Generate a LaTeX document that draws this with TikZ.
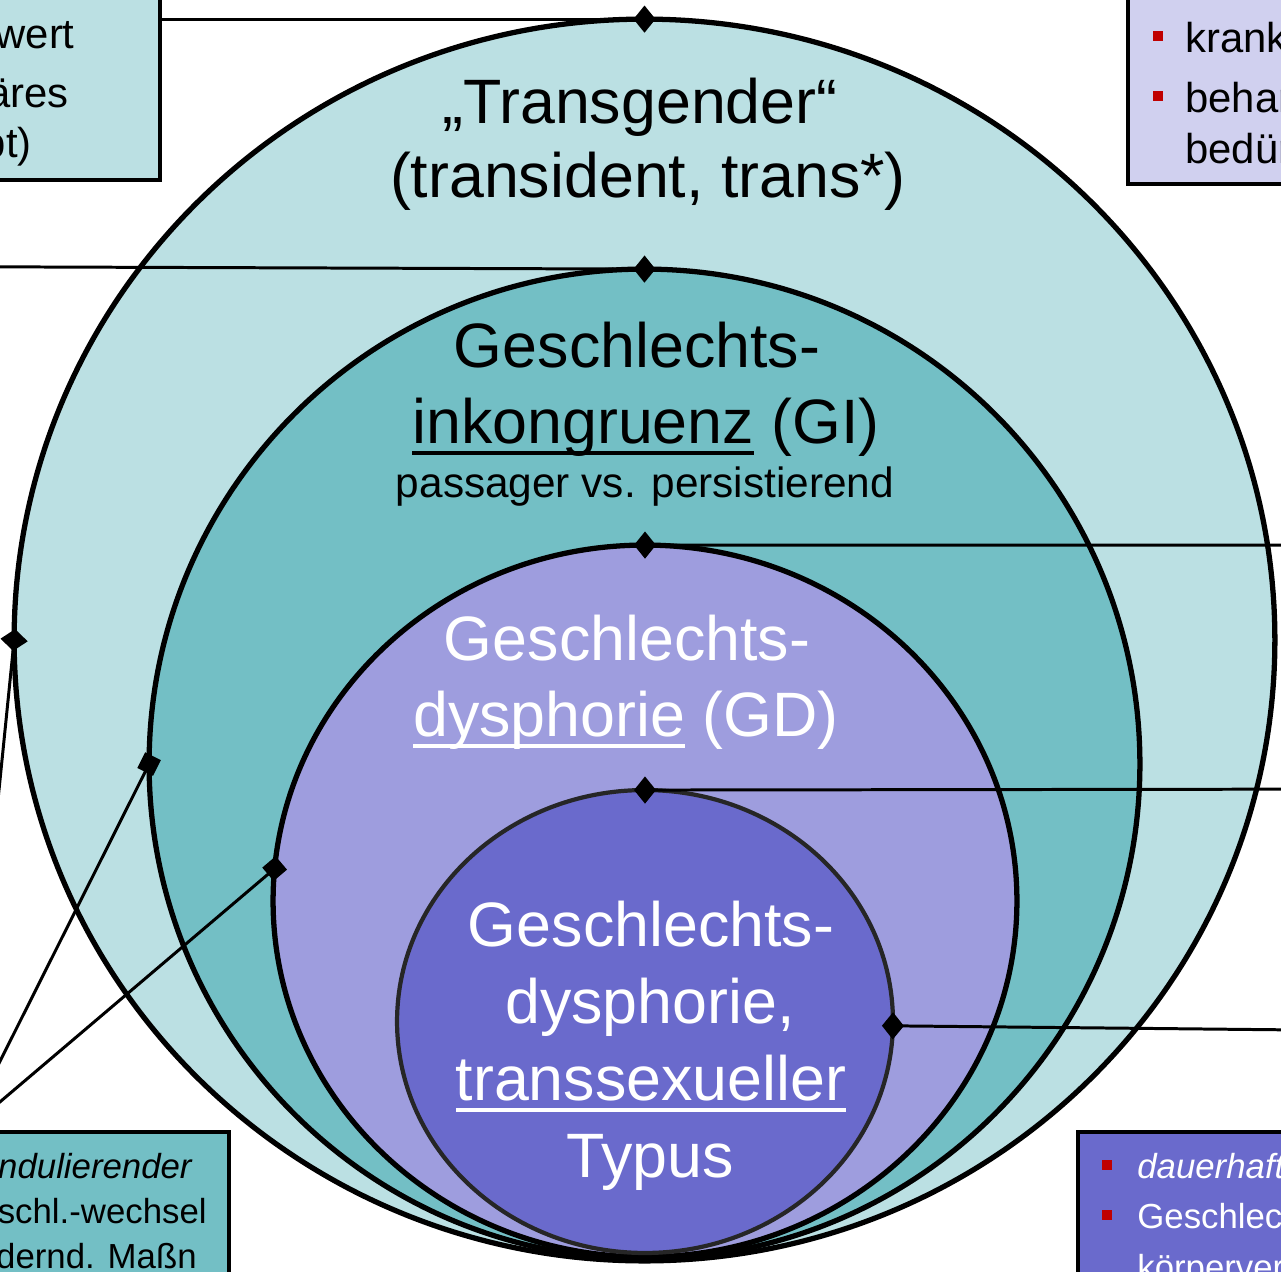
\documentclass[tikz,border=0pt]{standalone}
\usepackage{fontspec}
\setmainfont{Liberation Sans}
\usepackage{xcolor}
\usetikzlibrary{shapes,shapes.geometric}
\usetikzlibrary{arrows.meta}

\definecolor{tgcol}{RGB}{187,224,227}
\definecolor{gicol}{RGB}{115,191,197}
\definecolor{gdcol}{RGB}{158,157,222}
\definecolor{gdtcol}{RGB}{106,106,204}
\definecolor{lavbox}{RGB}{208,208,239}
\definecolor{bulred}{RGB}{192,0,0}
\definecolor{gdtline}{RGB}{38,38,38}

\newcommand{\ulword}[1]{\setbox0\hbox{#1}\rlap{\rule[-0.19em]{\wd0}{0.055em}}\box0\relax}
\newcommand{\redbul}[2]{\llap{\textcolor{bulred}{\rule[#1]{6.2pt}{6.2pt}}\hspace{#2}}}

\begin{document}
\begin{tikzpicture}[x=0.02cm,y=-0.02cm]
\tikzset{ring/.style={ellipse,draw,line width=3pt,inner sep=0pt,outer sep=0pt},
infobox/.style={rectangle,draw,line width=2.3pt,inner sep=0pt,outer sep=0pt},
link/.style={line width=1.7pt},
dlink/.style={link,-{Diamond[length=12.5pt,width=15.5pt]},shorten >=-6.25pt},
slink/.style={link,-{Square[length=10pt,width=10pt]},shorten >=-5pt},
bigtxt/.style={inner sep=0pt,anchor=base,font=\fontsize{35.7}{43}\selectfont},
midtxt/.style={inner sep=0pt,anchor=base,font=\fontsize{24.1}{29}\selectfont},
boxtxt/.style={inner sep=0pt,font=\fontsize{23.8}{29}\selectfont},
boxtxtsm/.style={inner sep=0pt,font=\fontsize{19.8}{24}\selectfont}}
\useasboundingbox (0,0) rectangle (1281,1271);
\clip (0,0) rectangle (1281,1271);

% the four nested sets
\node[ring,fill=tgcol,minimum width=25.22cm,minimum height=24.84cm](tg) at (644.5,640){};
\node[ring,fill=gicol,minimum width=19.82cm,minimum height=19.8cm](gi) at (644.5,764){};
\node[ring,fill=gdcol,minimum width=14.88cm,minimum height=14.24cm](gd) at (645,901){};
\node[ring,fill=gdtcol,draw=gdtline,line width=2.4pt,minimum width=9.92cm,minimum height=9.26cm](gdt) at (645,1021.5){};

% boxes, mostly outside the frame
\node[infobox,fill=tgcol,minimum width=8cm,minimum height=4.4cm](boxTL) at (-40,70){};
\node[infobox,fill=lavbox,minimum width=8cm,minimum height=4.48cm](boxTR) at (1328,72){};
\node[infobox,fill=gicol,minimum width=10.58cm,minimum height=4.4cm](boxBL) at (-35.5,1242){};
\node[infobox,fill=gdtcol,minimum width=8cm,minimum height=4.4cm](boxBR) at (1278,1242){};

\coordinate (offL) at (-100,266.5);
\coordinate (offR1) at (1400,545);
\coordinate (offR2) at (1400,789);
\coordinate (offR3) at (1400,1031);

% connectors
\draw[dlink](boxTL.east |- tg.north) -- (tg.north);
\draw[dlink](offL) -- (gi.north);
\draw[dlink](offR1) -- (gd.north);
\draw[dlink](offR2) -- (gdt.north);
\draw[dlink](offR3) -- (gdt.-1.3);
\draw[dlink](boxBL.north) -- (tg.west);
\draw[slink](boxBL.north) -- (gi.west);
\draw[slink](boxBL.north) -- (gd.175.5);

% labels of the sets
\node[bigtxt](tg1) at (640,123){„Transgender“};
\node[bigtxt](tg2) at (648,197){(transident, trans*)};
\node[bigtxt](gi1) at (637,367){Geschlechts-};
\node[bigtxt](gi2) at (646,443){\ulword{inkongruenz} (GI)};
\node[midtxt](gi3) at (645,497){passager vs. persistierend};
\node[bigtxt,text=white](gd1) at (627,660){Geschlechts-};
\node[bigtxt,text=white](gd2) at (626,736){\ulword{dysphorie} (GD)};
\node[bigtxt,text=white](gdt1) at (651,946){Geschlechts-};
\node[bigtxt,text=white](gdt2) at (650,1023){dysphorie,};
\node[bigtxt,text=white](gdt3) at (651,1100){\ulword{transsexueller}};
\node[bigtxt,text=white](gdt4) at (650,1177){Typus};

% box texts
\node[boxtxt,anchor=base east](tl1) at (75,48){kein Krankheitswert};
\node[boxtxt,anchor=base east](tl2) at (69,107){(nicht-binäres};
\node[boxtxt,anchor=base east](tl3) at (32,157){Konzept)};
\node[boxtxt,anchor=base west](tr1) at (1185,52){\redbul{6pt}{12.5pt}krankheitswertig};
\node[boxtxt,anchor=base west](tr2) at (1185,112){\redbul{6pt}{12.5pt}behandlungs-};
\node[boxtxt,anchor=base west](tr3) at (1185,163){bedürftig};
\node[boxtxtsm,anchor=base east](bl1) at (192,1178){\itshape pendulierender};
\node[boxtxtsm,anchor=base east](bl2) at (207,1223){Geschl.-wechsel};
\node[boxtxtsm,anchor=base east](bl3) at (197,1268){fördernd. Maßn};
\node[boxtxtsm,anchor=base west,text=white](br1) at (1137,1178){\redbul{4.3pt}{14.2pt}\itshape dauerhafter};
\node[boxtxtsm,anchor=base west,text=white](br2) at (1137,1228){\redbul{4.3pt}{14.2pt}Geschlechtswechsel};
\node[boxtxtsm,anchor=base west,text=white](br3) at (1137,1279){körperverändernd};
\end{tikzpicture}
\end{document}
